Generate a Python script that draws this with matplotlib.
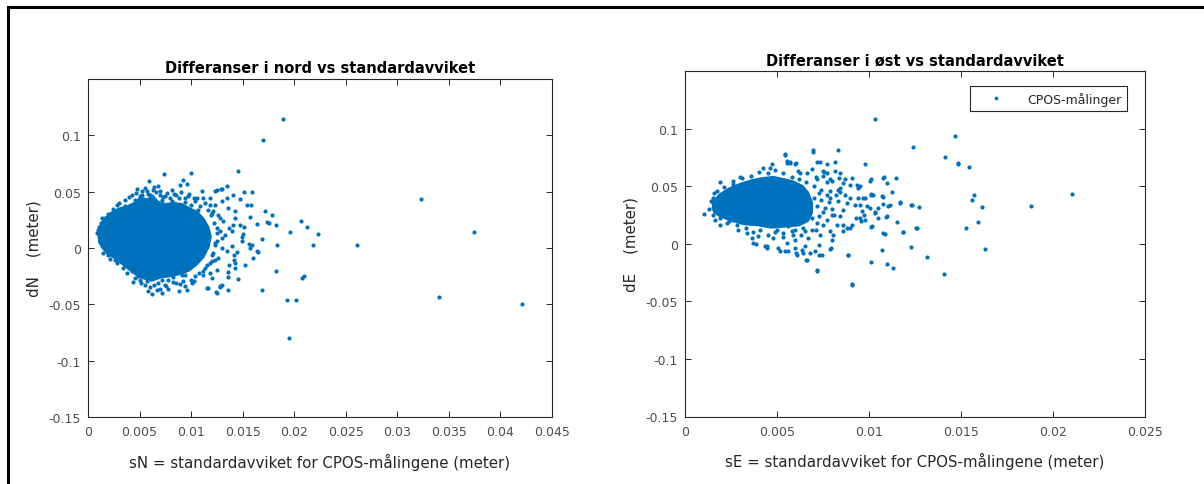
import matplotlib
matplotlib.use("Agg")
import matplotlib.pyplot as plt
from matplotlib.lines import Line2D

# ---------------- data ----------------
# North: individual points (sN, dN)
north_sd = [0.0189, 0.0170, 0.01458, 0.00738, 0.00995, 0.03233, 0.03742, 0.02610, 0.0340, 0.04206,
            0.01952, 0.01933, 0.0202, 0.0182, 0.02079, 0.02092, 0.01687, 0.02227, 0.02179, 0.0212,
            0.02066, 0.01962, 0.01836, 0.0182, 0.01733, 0.01758, 0.01684, 0.01642, 0.01717, 0.01781,
            0.01587, 0.01516, 0.01545, 0.01584, 0.01571, 0.01426, 0.01652, 0.01603, 0.01564, 0.01571,
            0.01506, 0.01516, 0.01474, 0.01526, 0.01448, 0.01426, 0.01426, 0.01416, 0.01416, 0.0137,
            0.01452, 0.01358, 0.01358, 0.0128, 0.0128, 0.01361, 0.01241, 0.01157, 0.01351, 0.0129,
            0.01232, 0.0141, 0.01474, 0.01587, 0.0149, 0.0149, 0.01642,
            0.00595, 0.00924, 0.00957, 0.01103, 0.01248, 0.01297, 0.00521, 0.00553, 0.00633, 0.00698,
            0.00795, 0.00941, 0.01038, 0.01183, 0.01232, 0.012, 0.0128, 0.01248, 0.01297, 0.01232,
            0.01264, 0.012, 0.01183, 0.01118, 0.01038, 0.01006, 0.00924, 0.00941, 0.01167, 0.01248,
            0.01297, 0.00779, 0.00747, 0.00715, 0.00618, 0.00666, 0.00569, 0.00488, 0.00424, 0.00359,
            0.00278, 0.00197, 0.00172, 0.00116, 0.0010, 0.00126, 0.00165, 0.00262, 0.00359, 0.00456,
            0.00504, 0.00601, 0.00892, 0.00812, 0.0107,
            0.01118, 0.01183, 0.01215, 0.01264, 0.01312, 0.0128, 0.01329, 0.01248, 0.01297, 0.012,
            0.01232, 0.01151, 0.01248, 0.01118, 0.012, 0.0137, 0.01394, 0.01409, 0.01426, 0.01361,
            0.01297, 0.01345, 0.01394, 0.01345,
            0.0051, 0.0060, 0.0068, 0.0078, 0.0085, 0.0088, 0.0096, 0.0103, 0.0056, 0.0072,
            0.0082, 0.0091, 0.0046, 0.0040, 0.0030,
            0.0040, 0.0048, 0.0058, 0.0066, 0.0072, 0.0085, 0.0098, 0.0103, 0.0068, 0.0075,
            0.0030, 0.0036, 0.0043, 0.0047, 0.0052, 0.0057, 0.0062, 0.0064, 0.0070, 0.0073,
            0.0077, 0.0081, 0.0083, 0.0088, 0.0090, 0.0094, 0.0097, 0.0100, 0.0106, 0.0109,
            0.0113, 0.0116, 0.0119, 0.0122, 0.0125, 0.0123, 0.0121, 0.0118, 0.0113, 0.0108,
            0.0100, 0.0094, 0.0089, 0.0082, 0.0076, 0.0070, 0.0064, 0.0058, 0.0055, 0.0050,
            0.0044, 0.0038, 0.0034, 0.0026, 0.0021, 0.0015, 0.0012, 0.0009, 0.0011, 0.0014,
            0.0019, 0.0024, 0.0028]
north_diff = [0.1148, 0.0960, 0.0682, 0.0660, 0.0667, 0.0432, 0.0145, 0.0024, -0.0435, -0.0494,
              -0.0797, -0.0465, -0.0465, -0.0202, -0.0267, -0.0249, -0.0376, 0.0124, 0.0030, 0.0187,
              0.0237, 0.0139, 0.0030, 0.0207, 0.0228, 0.0225, 0.0083, 0.0213, 0.0332, 0.0296,
              0.0501, 0.0495, 0.0385, 0.0385, 0.0276, 0.0326, -0.0036, -0.0092, 0.0036, 0.0,
              0.0124, 0.0187, 0.0207, -0.0148, -0.0036, -0.0133, -0.0178, -0.0062, -0.0107, -0.0148,
              -0.0276, -0.0213, -0.0258, -0.0335, -0.0350, -0.0373, -0.0391, -0.0353, 0.0548, 0.0521,
              0.0504, 0.0474, 0.0436, 0.0030, 0.0095, 0.0060, -0.0030,
              0.0593, 0.0602, 0.0569, 0.0504, 0.0518, 0.0527, 0.0504, 0.0533, 0.0518, 0.0474,
              0.0444, 0.0444, 0.0415, 0.0444, 0.0385, 0.0311, 0.0267, 0.0178, 0.0089, 0.0030,
              -0.0089, -0.0119, -0.0222, -0.0207, -0.0252, -0.0311, -0.0296, -0.0340, -0.0356, -0.0400,
              -0.0326, -0.0281, -0.0326, -0.0400, -0.0409, -0.0370, -0.0296, -0.0252, -0.0207, -0.0148,
              -0.0133, -0.0059, 0.0030, 0.0104, 0.0163, 0.0222, 0.0267, 0.0326, 0.0370, 0.0429,
              0.0459, 0.0474, 0.0563, 0.0518, 0.0340,
              0.0444, 0.0385, 0.0326, 0.0296, 0.0237, 0.0148, 0.0119, 0.0060, 0.0, -0.0059,
              -0.0104, -0.0148, -0.0193, -0.0237, -0.0267, 0.0178, 0.0148, 0.0207, 0.0267, 0.0356,
              0.0415, 0.0444, 0.0015, -0.0030,
              -0.0310, -0.0350, -0.0310, -0.0360, -0.0310, -0.0380, -0.0370, -0.0290, -0.0255, -0.0285,
              -0.0260, -0.0240, -0.0270, -0.0180, -0.0110,
              0.0450, 0.0520, 0.0475, 0.0500, 0.0430, 0.0470, 0.0480, 0.0440, 0.0550, 0.0460,
              0.0400, 0.0430, 0.0470, 0.0490, 0.0470, 0.0510, 0.0460, 0.0540, 0.0510, 0.0450,
              0.0490, 0.0420, 0.0480, 0.0440, 0.0500, 0.0410, 0.0460, 0.0380, 0.0440, 0.0370,
              0.0400, 0.0340, 0.0290, 0.0220, 0.0130, 0.0040, -0.0040, -0.0130, -0.0180, -0.0220,
              -0.0280, -0.0240, -0.0320, -0.0300, -0.0340, -0.0360, -0.0330, -0.0380, -0.0330, -0.0280,
              -0.0300, -0.0220, -0.0180, -0.0110, -0.0100, -0.0040, 0.0050, 0.0130, 0.0190, 0.0270,
              0.0300, 0.0350, 0.0380]
# North: outline of the saturated (fully overlapping) point cloud
north_core_sd = [0.0010, 0.0012, 0.0016, 0.0022, 0.0030, 0.0038, 0.0045, 0.0051, 0.0057, 0.0063,
                 0.0068, 0.0075, 0.0083, 0.0091, 0.0099, 0.0106, 0.0112, 0.0117, 0.0119, 0.0117,
                 0.0112, 0.0105, 0.0098, 0.0090, 0.0080, 0.0071, 0.0062, 0.0054, 0.0047, 0.0040,
                 0.0033, 0.0026, 0.0019, 0.0014, 0.0011]
north_core_diff = [0.012, 0.020, 0.026, 0.031, 0.035, 0.037, 0.040, 0.045, 0.043, 0.046,
                   0.041, 0.039, 0.040, 0.039, 0.035, 0.032, 0.026, 0.018, 0.010, 0.001,
                   -0.008, -0.015, -0.020, -0.023, -0.025, -0.026, -0.029, -0.027, -0.024, -0.019,
                   -0.014, -0.009, -0.005, 0.0, 0.005]

# East: individual points (sE, dE)
east_sd = [0.01031, 0.01469, 0.01238, 0.01413, 0.01482, 0.01486, 0.01543, 0.00695, 0.00831, 0.00978,
           0.00542, 0.02105, 0.01881, 0.01568, 0.01562, 0.01612, 0.01528, 0.01595, 0.01629, 0.01316,
           0.01406, 0.00905, 0.00718, 0.01012, 0.0110, 0.01129, 0.01073, 0.01226, 0.00884, 0.01085,
           0.01186, 0.01259, 0.01154, 0.0123, 0.01272, 0.01171, 0.01123, 0.01146, 0.01077, 0.01098,
           0.01003, 0.01009, 0.01024, 0.01077, 0.01104, 0.01035, 0.01092, 0.0101, 0.00953, 0.00968,
           0.00938, 0.00789, 0.00835, 0.00856, 0.0072, 0.00758, 0.00602, 0.00569, 0.00856, 0.00898,
           0.0093, 0.00793, 0.00726, 0.00747, 0.0073, 0.00659, 0.00605, 0.00542, 0.00506, 0.00447,
           0.00384, 0.00363, 0.00105,
           0.01256, 0.01232, 0.0117, 0.01187, 0.01096, 0.01051, 0.01015, 0.01033, 0.01047, 0.01074,
           0.01114, 0.01082, 0.01011, 0.01011, 0.0107, 0.00989, 0.01005, 0.0096, 0.00973, 0.00978,
           0.00955, 0.00942, 0.00951, 0.00933, 0.00897, 0.00978, 0.00924, 0.00906, 0.00888, 0.00788,
           0.00707, 0.00643, 0.00797, 0.00788, 0.00824, 0.0086, 0.00842, 0.0086, 0.00879, 0.00897,
           0.0087, 0.00833, 0.00842, 0.00815, 0.00842, 0.00815, 0.0077, 0.00734, 0.00689, 0.00752,
           0.00788, 0.00906,
           0.0015, 0.00172, 0.0019, 0.00263, 0.00299, 0.00426, 0.00471, 0.00544, 0.00553, 0.00571,
           0.00598, 0.00616, 0.00661, 0.00163, 0.0019, 0.00227, 0.0029, 0.00335, 0.00371, 0.00398,
           0.00435, 0.00444, 0.0048, 0.00516, 0.00553, 0.00598, 0.00607, 0.00634, 0.00661, 0.00498,
           0.00534, 0.00589, 0.00652, 0.0067,
           0.00154, 0.00716, 0.00906, 0.00462, 0.00697, 0.00553, 0.00625, 0.00752, 0.0077, 0.00716,
           0.00797, 0.0087, 0.0077, 0.00833, 0.00797, 0.00752, 0.00734, 0.00806, 0.00879, 0.00951,
           0.01078,
           0.0066, 0.0070, 0.0072, 0.0075, 0.0069, 0.0074, 0.0078, 0.0067, 0.0064, 0.0071,
           0.0060, 0.0056, 0.0077, 0.0080, 0.0082,
           0.0013, 0.0014, 0.0016, 0.0021, 0.0026, 0.0031, 0.0036, 0.0040, 0.0045, 0.0049,
           0.0053, 0.0058, 0.0062, 0.0066, 0.0070, 0.0073, 0.0074, 0.0076, 0.0073, 0.0072,
           0.0069, 0.0063, 0.0058, 0.0053, 0.0049, 0.0045, 0.0041, 0.0037, 0.0033, 0.0028,
           0.0024, 0.0019, 0.0015, 0.0079, 0.0081, 0.0084, 0.0077, 0.0071, 0.0060, 0.0065,
           0.0056, 0.0068]
east_diff = [0.1086, 0.0939, 0.0844, 0.0752, 0.0703, 0.0692, 0.0666, 0.0801, 0.0813, 0.0689,
             0.0769, 0.0432, 0.0326, 0.0424, 0.0383, 0.0317, 0.0133, 0.0193, -0.0043, -0.0115,
             -0.0265, -0.0354, -0.0233, -0.0156, -0.0173, -0.0213, -0.0058, -0.0026, -0.0101, 0.0081,
             0.0104, 0.0133, 0.0193, 0.0337, 0.0320, 0.0357, 0.0452, 0.0568, 0.0568, 0.0530,
             0.0545, 0.0429, 0.0424, 0.0403, 0.0331, 0.0280, 0.0233, 0.0147, 0.0337, 0.0395,
             0.0481, 0.0461, 0.0568, 0.0524, 0.0712, 0.0625, 0.0697, 0.0712, 0.0107, 0.0135,
             0.0222, -0.0037, -0.0095, -0.0101, -0.0009, -0.0138, -0.0081, -0.0066, -0.0037, -0.0023,
             -0.0003, 0.0049, 0.0257,
             0.0134, 0.0340, 0.0364, 0.0105, 0.0239, 0.0224, 0.0152, 0.0268, 0.0311, 0.0346,
             0.0335, 0.0579, 0.0558, 0.0427, 0.0413, 0.0326, 0.0311, 0.0282, 0.0253, 0.0209,
             0.0195, 0.0398, 0.0500, 0.0514, 0.0509, 0.0398, 0.0340, 0.0166, -0.0096, -0.0046,
             -0.0067, -0.0081, 0.0035, 0.0108, 0.0166, 0.0166, 0.0239, 0.0296, 0.0355, 0.0398,
             0.0427, 0.0471, 0.0486, 0.0631, 0.0616, 0.0712, 0.0689, 0.0712, 0.0645, 0.0588,
             0.0558, 0.0573,
             0.0355, 0.0457, 0.0538, 0.0544, 0.0579, 0.0660, 0.0695, 0.0776, 0.0704, 0.0704,
             0.0689, 0.0631, 0.0616, 0.0209, 0.0166, 0.0180, 0.0122, 0.0093, 0.0006, 0.0065,
             -0.0023, -0.0037, 0.0050, -0.0066, 0.0006, -0.0037, -0.0096, -0.0052, -0.0139, 0.0122,
             0.0093, 0.0078, 0.0108, 0.0050,
             0.0398, -0.0232, -0.0351, 0.0660, 0.0814, 0.0718, 0.0616, 0.0631, 0.0616, 0.0558,
             0.0544, 0.0558, 0.0427, 0.0370, 0.0253, 0.0166, 0.0078, 0.0078, 0.0137, 0.0224,
             0.0093,
             0.0450, 0.0400, 0.0330, 0.0280, 0.0220, 0.0470, 0.0360, 0.0300, 0.0140, 0.0120,
             0.0120, 0.0150, 0.0210, 0.0300, 0.0420,
             0.0300, 0.0370, 0.0440, 0.0490, 0.0520, 0.0570, 0.0590, 0.0620, 0.0610, 0.0640,
             0.0610, 0.0580, 0.0560, 0.0540, 0.0500, 0.0440, 0.0380, 0.0310, 0.0240, 0.0180,
             0.0120, 0.0080, 0.0110, 0.0060, 0.0100, 0.0080, 0.0120, 0.0100, 0.0140, 0.0160,
             0.0200, 0.0220, 0.0250, 0.0400, 0.0250, 0.0450, 0.0540, 0.0580, 0.0030, -0.0020,
             -0.0060, -0.0080]
# East: outline of the saturated point cloud
east_core_sd = [0.0015, 0.0016, 0.0019, 0.0024, 0.0030, 0.0036, 0.0042, 0.0048, 0.0054, 0.0059,
                0.0064, 0.0067, 0.0069, 0.0069, 0.0067, 0.0062, 0.0055, 0.0047, 0.0040, 0.0032,
                0.0025, 0.0019, 0.0016]
east_core_diff = [0.031, 0.038, 0.043, 0.048, 0.052, 0.055, 0.057, 0.058, 0.056, 0.054,
                  0.050, 0.044, 0.036, 0.027, 0.020, 0.016, 0.015, 0.014, 0.016, 0.017,
                  0.020, 0.024, 0.027]

north_xticks = [0, 0.005, 0.01, 0.015, 0.02, 0.025, 0.03, 0.035, 0.04, 0.045]
north_xticklabels = ["0", "0.005", "0.01", "0.015", "0.02", "0.025", "0.03", "0.035", "0.04", "0.045"]
east_xticks = [0, 0.005, 0.01, 0.015, 0.02, 0.025]
east_xticklabels = ["0", "0.005", "0.01", "0.015", "0.02", "0.025"]
yticks = [-0.15, -0.1, -0.05, 0, 0.05, 0.1]
yticklabels = ["-0.15", "-0.1", "-0.05", "0", "0.05", "0.1"]

# ---------------- style ----------------
plt.rcParams['font.family'] = ['DejaVu Sans']
plt.rcParams['axes.unicode_minus'] = False
BLUE = '#0072BD'
GRAY = '#262626'
TICKCOL = '#4d4d4d'

W, H = 1204, 485
fig = plt.figure(figsize=(W / 100, H / 100), dpi=100)

def px_axes(x0, y0, x1, y1):
    return fig.add_axes([x0 / W, 1 - y1 / H, (x1 - x0) / W, (y1 - y0) / H])

ax1 = px_axes(88, 80, 552, 418)
ax2 = px_axes(685, 72, 1145, 417.5)

def style(ax, xt, xtl, xlim):
    ax.set_xlim(*xlim)
    ax.set_ylim(-0.15, 0.15)
    ax.set_xticks(xt)
    ax.set_xticklabels(xtl)
    ax.set_yticks(yticks)
    ax.set_yticklabels(yticklabels)
    ax.tick_params(direction='in', length=4.5, width=0.7, top=True, right=True,
                   labelsize=9, labelcolor=TICKCOL, color=GRAY)
    ax.tick_params(axis='x', pad=6)
    ax.tick_params(axis='y', pad=5)
    for s in ax.spines.values():
        s.set_color(GRAY)
        s.set_linewidth(0.8)

MS = 3.0

# left panel
ax1.fill(north_core_sd, north_core_diff, color=BLUE, lw=1.5, ec=BLUE)
ax1.plot(north_sd, north_diff, linestyle='none', marker='o', markersize=MS,
         color=BLUE, mec='none')
style(ax1, north_xticks, north_xticklabels, (0, 0.045))
ax1.set_title("Differanser i nord vs standardavviket", fontsize=10.5, fontweight='bold', pad=5)
ax1.set_xlabel("sN = standardavviket for CPOS-målingene (meter)", fontsize=10.8, color=GRAY)
ax1.set_ylabel("dN    (meter)", fontsize=10.8, color=GRAY)
ax1.xaxis.set_label_coords(0.5, -0.105)
ax1.yaxis.set_label_coords(-0.1, 0.5)

# right panel
ax2.fill(east_core_sd, east_core_diff, color=BLUE, lw=1.5, ec=BLUE)
ax2.plot(east_sd, east_diff, linestyle='none', marker='o', markersize=MS,
         color=BLUE, mec='none', label="CPOS-målinger")
style(ax2, east_xticks, east_xticklabels, (0, 0.025))
ax2.set_title("Differanser i øst vs standardavviket", fontsize=10.5, fontweight='bold', pad=5)
ax2.set_xlabel("sE = standardavviket for CPOS-målingene (meter)", fontsize=10.8, color=GRAY)
ax2.set_ylabel("dE    (meter)", fontsize=10.8, color=GRAY)
ax2.xaxis.set_label_coords(0.5, -0.103)
ax2.yaxis.set_label_coords(-0.101, 0.5)

leg = ax2.legend(loc='upper right', bbox_to_anchor=(1127 / W, 1 - 87 / H),
                 bbox_transform=fig.transFigure, borderaxespad=0, fancybox=False,
                 framealpha=1, edgecolor=GRAY, fontsize=9, handlelength=3.2,
                 handletextpad=0.9, borderpad=0.45, markerscale=0.9)
leg.get_frame().set_linewidth(0.8)
for t in leg.get_texts():
    t.set_color(GRAY)

# figure frame (left and top edges visible)
fig.add_artist(Line2D([7.5 / W, 7.5 / W], [0, 1 - 7.5 / H], transform=fig.transFigure,
                      color='black', lw=2.2))
fig.add_artist(Line2D([7.5 / W, 1], [1 - 7.5 / H, 1 - 7.5 / H], transform=fig.transFigure,
                      color='black', lw=2.2))

fig.savefig("out.png", dpi=100)
